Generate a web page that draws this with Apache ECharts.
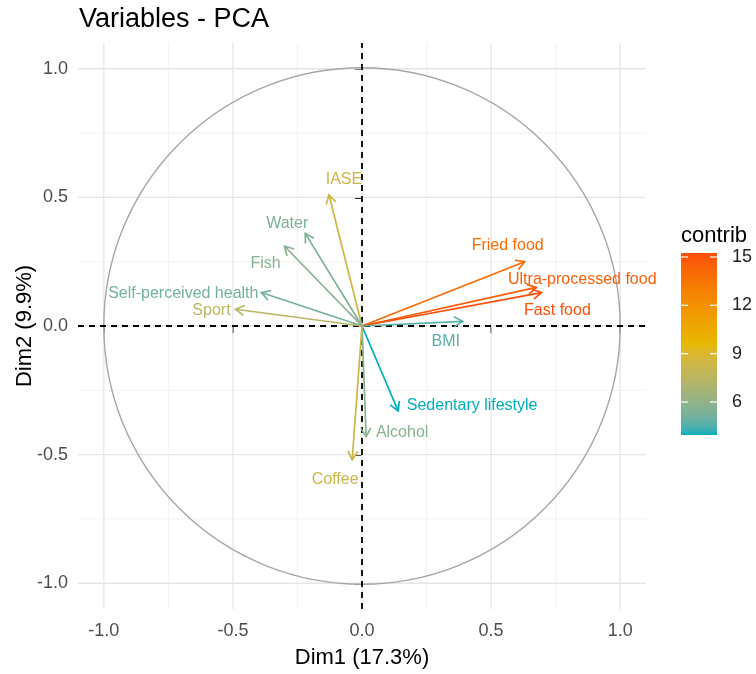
<!DOCTYPE html>
<html><head><meta charset="utf-8">
<script src="https://cdn.jsdelivr.net/npm/echarts@6/dist/echarts.min.js"></script>
<style>html,body{margin:0;padding:0;background:#fff}#c{width:756px;height:674px}</style>
</head><body><div id="c"></div>
<script>
// ---- data ----
const variables = ['IASE','Water','Fish','Self-perceived health','Sport','Fried food','Ultra-processed food','Fast food','BMI','Sedentary lifestyle','Alcohol','Coffee'];
const dim1 = [-0.128,-0.22,-0.30,-0.39,-0.49,0.63,0.675,0.695,0.39,0.14,0.016,-0.038];
const dim2 = [0.51,0.36,0.31,0.13,0.065,0.25,0.15,0.13,0.018,-0.33,-0.43,-0.52];
const contrib = [8.43,5.43,5.68,5.15,7.45,14.0,14.6,15.25,4.65,3.95,5.65,8.3];
const majorTicks = [-1,-0.5,0,0.5,1];
const minorTicks = [-0.75,-0.25,0.25,0.75];
const legendTicks = [6,9,12,15];
const gradientColors = ['#00AFBB','#E7B800','#FC4E07'];

// ---- layout (pixel offsets of the text labels from arrow tips) ----
const labelOffsets = [[15,-15],[-18,-10],[-19,17],[-78,1],[-24,1],[-17,-16],[46,-8],[16,18],[-17,20],[74,-5],[36,-4],[-17,20]];
const axisMin = -1.1, axisMax = 1.1;
const FONT = '"Liberation Sans", Arial, sans-serif';

const cMin = Math.min.apply(null, contrib), cMax = Math.max.apply(null, contrib);

// ---- CIELAB colour ramp (as ggplot's gradientn) ----
function hex2lab(h){
  let r=parseInt(h.substr(1,2),16)/255, g=parseInt(h.substr(3,2),16)/255, b=parseInt(h.substr(5,2),16)/255;
  const lin=c=>c<=0.04045?c/12.92:Math.pow((c+0.055)/1.055,2.4);
  r=lin(r); g=lin(g); b=lin(b);
  let X=(r*0.4124+g*0.3576+b*0.1805)/0.95047, Y=(r*0.2126+g*0.7152+b*0.0722), Z=(r*0.0193+g*0.1192+b*0.9505)/1.08883;
  const f=t=>t>0.008856?Math.cbrt(t):(7.787*t+16/116);
  X=f(X); Y=f(Y); Z=f(Z);
  return [116*Y-16, 500*(X-Y), 200*(Y-Z)];
}
function lab2hex(l){
  let Y=(l[0]+16)/116, X=l[1]/500+Y, Z=Y-l[2]/200;
  const fi=t=>{const t3=t*t*t; return t3>0.008856?t3:(t-16/116)/7.787;};
  X=fi(X)*0.95047; Y=fi(Y); Z=fi(Z)*1.08883;
  let r=X*3.2406+Y*-1.5372+Z*-0.4986, g=X*-0.9689+Y*1.8758+Z*0.0415, b=X*0.0557+Y*-0.2040+Z*1.0570;
  const gam=c=>{c=c<=0.0031308?12.92*c:1.055*Math.pow(c,1/2.4)-0.055; return Math.max(0,Math.min(255,Math.round(c*255)));};
  return '#'+[gam(r),gam(g),gam(b)].map(v=>v.toString(16).padStart(2,'0')).join('');
}
const labStops = gradientColors.map(hex2lab);
const ramp = [];
const N = 40;
for (let i=0;i<=N;i++){
  const t=i/N*(labStops.length-1), k=Math.min(Math.floor(t), labStops.length-2), f=t-k;
  ramp.push(lab2hex(labStops[k].map((v,j)=>v+(labStops[k+1][j]-v)*f)));
}

function seg(a, b, color, w, dash){
  return {type:'line', shape:{x1:a[0],y1:a[1],x2:b[0],y2:b[1]},
    style:{stroke:color, lineWidth:w, lineDash: dash || null}};
}

function renderFrame(params, api){
  const ch = [];
  minorTicks.forEach(v=>{
    ch.push(seg(api.coord([v,axisMin]), api.coord([v,axisMax]), '#F1F1F1', 0.9));
    ch.push(seg(api.coord([axisMin,v]), api.coord([axisMax,v]), '#F1F1F1', 0.9));
  });
  majorTicks.forEach(v=>{
    ch.push(seg(api.coord([v,axisMin]), api.coord([v,axisMax]), '#E6E6E6', 1.3));
    ch.push(seg(api.coord([axisMin,v]), api.coord([axisMax,v]), '#E6E6E6', 1.3));
  });
  const c = api.coord([0,0]);
  const r = api.size([1,1])[0];
  ch.push({type:'circle', shape:{cx:c[0], cy:c[1], r:r}, style:{stroke:'#A6A6A6', lineWidth:1.4, fill:null}});
  ch.push(seg(api.coord([0,axisMin]), api.coord([0,axisMax]), '#000', 1.8, [6,5]));
  ch.push(seg(api.coord([axisMin,0]), api.coord([axisMax,0]), '#000', 1.8, [6,5]));
  return {type:'group', children:ch};
}

function renderArrow(params, api){
  const x = api.value(0), y = api.value(1);
  const p0 = api.coord([0,0]), p1 = api.coord([x,y]);
  const color = api.visual('color');
  const ang = Math.atan2(p1[1]-p0[1], p1[0]-p0[0]);
  const L = 10, a = Math.PI/6;
  const h1 = [p1[0]-L*Math.cos(ang-a), p1[1]-L*Math.sin(ang-a)];
  const h2 = [p1[0]-L*Math.cos(ang+a), p1[1]-L*Math.sin(ang+a)];
  const off = labelOffsets[params.dataIndex];
  return {type:'group', children:[
    {type:'line', shape:{x1:p0[0],y1:p0[1],x2:p1[0],y2:p1[1]}, style:{stroke:color, lineWidth:1.7}},
    {type:'polyline', shape:{points:[h1,p1,h2]}, style:{stroke:color, lineWidth:1.7, fill:null}},
    {type:'text', style:{text:variables[params.dataIndex], x:p1[0]+off[0], y:p1[1]+off[1],
      fill:color, font:'16px '+FONT, align:'center', verticalAlign:'middle'}}
  ]};
}

const arrowData = variables.map((n,i)=>[dim1[i], dim2[i], contrib[i]]);

// legend (colour bar)
const legLeft = 681, legTop = 253, legW = 36, legH = 182;
const legGraphic = [
  {type:'text', x:legLeft, y:236, style:{text:'contrib', font:'22px '+FONT, fill:'#000', verticalAlign:'middle'}},
  {type:'rect', shape:{x:legLeft, y:legTop, width:legW, height:legH},
    style:{fill:new echarts.graphic.LinearGradient(0,0,0,1,
      ramp.map((c,i)=>({offset:1-i/N, color:c})).reverse())}}
];
legendTicks.forEach(v=>{
  const yy = legTop + (cMax - v)/(cMax - cMin)*legH;
  legGraphic.push({type:'line', shape:{x1:legLeft,y1:yy,x2:legLeft+7,y2:yy}, style:{stroke:'#fff', lineWidth:1.2}});
  legGraphic.push({type:'line', shape:{x1:legLeft+legW-7,y1:yy,x2:legLeft+legW,y2:yy}, style:{stroke:'#fff', lineWidth:1.2}});
  legGraphic.push({type:'text', x:732, y:yy, style:{text:String(v), font:'18px '+FONT, fill:'#222', verticalAlign:'middle'}});
});

const axisCommon = {
  type:'value', min:axisMin, max:axisMax,
  axisLine:{show:false}, splitLine:{show:false},
  axisTick:{show:true, length:7, lineStyle:{color:'#222', width:2}, customValues:majorTicks},
  axisLabel:{customValues:majorTicks, formatter:v=>v.toFixed(1), color:'#4D4D4D', fontSize:18, fontFamily:FONT},
  nameLocation:'middle', nameMoveOverlap:false,
  nameTextStyle:{fontSize:22, color:'#000', fontFamily:FONT}
};

const chart = echarts.init(document.getElementById('c'), null, {renderer:'canvas'});
chart.setOption({
  backgroundColor:'#fff',
  animation:false,
  title:{text:'Variables - PCA', left:74, top:1, textStyle:{fontSize:27, fontWeight:'normal', color:'#000', fontFamily:FONT}},
  grid:{left:78, top:43, width:568, height:566, containLabel:false, outerBoundsMode:'none'},
  xAxis:Object.assign({}, axisCommon, {name:'Dim1 (17.3%)', nameGap:38,
    axisLabel:Object.assign({}, axisCommon.axisLabel, {margin:13})}),
  yAxis:Object.assign({}, axisCommon, {name:'Dim2 (9.9%)', nameGap:42,
    axisLabel:Object.assign({}, axisCommon.axisLabel, {margin:10})}),
  visualMap:{show:false, type:'continuous', seriesIndex:1, dimension:2, min:cMin, max:cMax,
    inRange:{color:ramp}},
  graphic:legGraphic,
  series:[
    {type:'custom', renderItem:renderFrame, data:[[0,0]], silent:true, z:1},
    {type:'custom', renderItem:renderArrow, data:arrowData, z:2}
  ]
});
</script>
</body></html>
